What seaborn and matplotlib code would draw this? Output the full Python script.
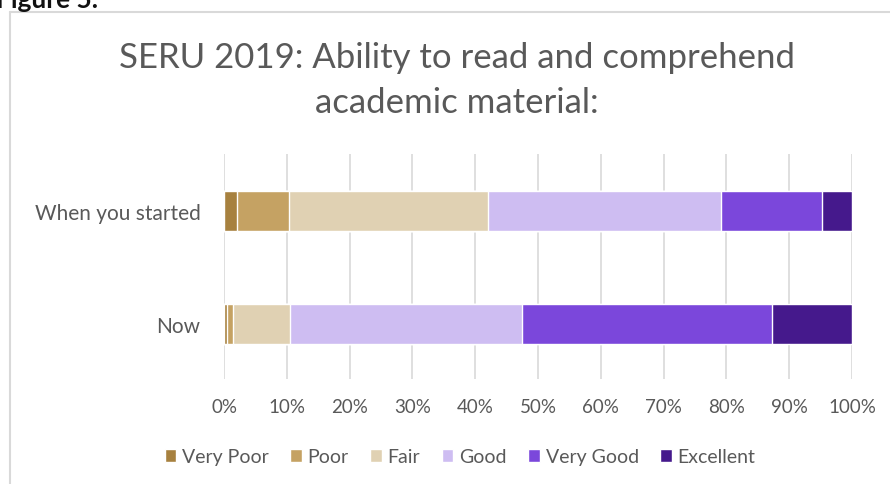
import numpy as np
import pandas as pd
import matplotlib
matplotlib.use("Agg")
import matplotlib.pyplot as plt
import seaborn as sns
from matplotlib.patches import Patch

sns.set_style("white")
plt.rcParams['font.family'] = ['Lato', 'DejaVu Sans']

# data (percent of respondents)
groups = ["When you started", "Now"]
levels = ["Very Poor", "Poor", "Fair", "Good", "Very Good", "Excellent"]
very_poor = [2.0, 0.5]
poor = [8.4, 1.0]
fair = [31.7, 9.0]
good = [37.0, 37.0]
very_good = [16.2, 39.7]
excellent = [4.7, 12.8]
colors = ["#A7813F", "#C5A263", "#E0D1B3", "#CEBDF2", "#7B47DB", "#45198C"]
ticks = np.arange(0, 101, 10)

df = pd.DataFrame([very_poor, poor, fair, good, very_good, excellent],
                  index=levels, columns=groups)
cum = df.cumsum()

fig = plt.figure(figsize=(8.9, 4.85), dpi=100)
ax = fig.add_axes([224/890, 1-380/485, 628/890, 225/485])

# stacked bars: draw cumulative totals from the top level down
for lvl, col in reversed(list(zip(levels, colors))):
    part = pd.DataFrame({"group": groups, "value": cum.loc[lvl].values})
    sns.barplot(data=part, x="value", y="group", orient="h", color=col,
                width=0.354, saturation=1, ax=ax, zorder=3)

ax.set_xlim(0, 100)
ax.set_ylim(1.487, -0.504)
ax.set_xticks(ticks)
ax.set_xticklabels([f"{t}%" for t in ticks])
ax.set_xlabel("")
ax.set_ylabel("")
ax.grid(axis="x", color="#D9D9D9", linewidth=1.2, zorder=0)
for s in ax.spines.values():
    s.set_visible(False)
ax.tick_params(axis="x", length=0, pad=14, labelsize=13.5, labelcolor="#595959")
ax.tick_params(axis="y", length=0, pad=17, labelsize=15, labelcolor="#595959")

fig.text(0.513, 1-58/485, "SERU 2019: Ability to read and comprehend",
         ha="center", va="center", fontsize=25, color="#595959")
fig.text(0.513, 1-103/485, "academic material:",
         ha="center", va="center", fontsize=25, color="#595959")

fig.text(98/890, 1-8/485, "Figure 5.", ha="right", va="baseline",
         fontsize=19, fontweight="bold", color="#111111")

handles = [Patch(facecolor=c, label=l) for l, c in zip(levels, colors)]
fig.legend(handles=handles, loc="center", bbox_to_anchor=(460/890, 1-458/485),
           ncol=6, frameon=False, fontsize=14, handlelength=0.6,
           handleheight=0.6, handletextpad=0.3, columnspacing=1.1,
           labelcolor="#595959")

# frame lines of the chart box
fig.add_artist(plt.Line2D([10/890, 1], [1-13/485, 1-13/485], color="#D9D9D9", lw=1.5))
fig.add_artist(plt.Line2D([10/890, 10/890], [0, 1-13/485], color="#D9D9D9", lw=1.5))

fig.savefig("out.png", dpi=100)
